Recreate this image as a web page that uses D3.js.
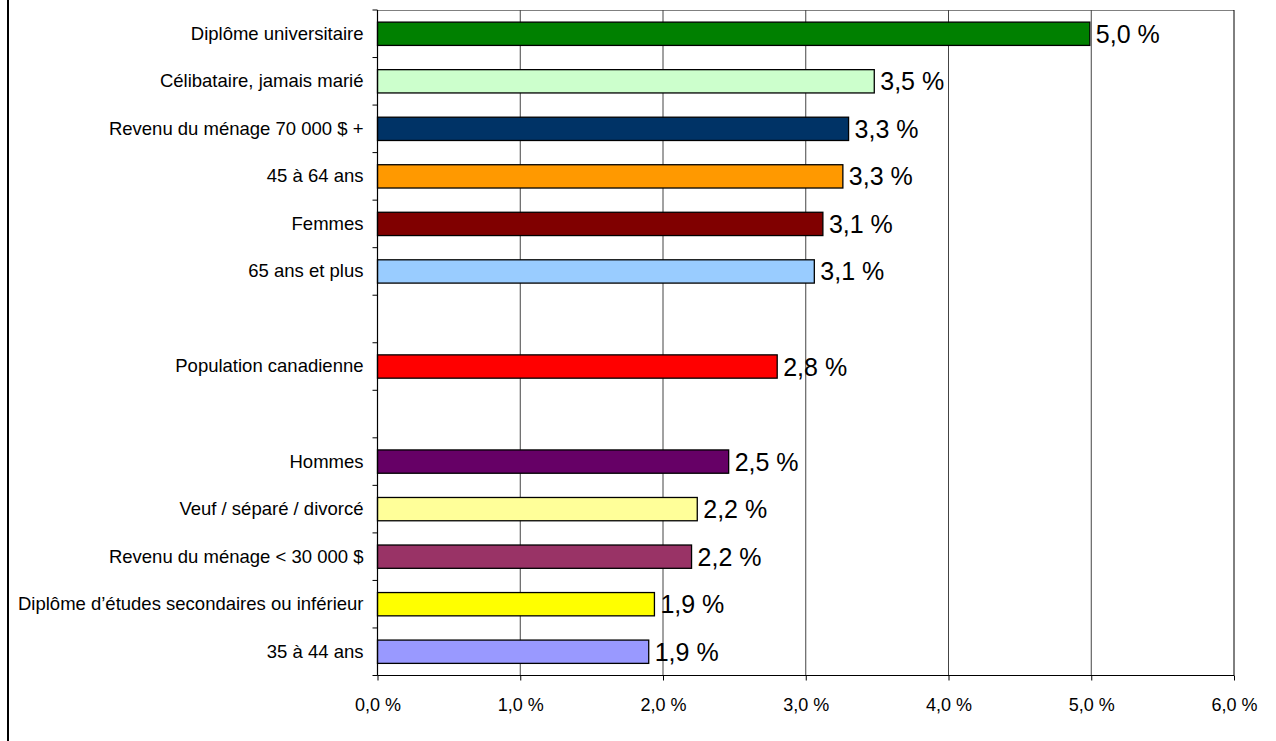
<!DOCTYPE html>
<html>
<head>
<meta charset="utf-8">
<script src="https://cdn.jsdelivr.net/npm/d3@7"></script>
<style>
  html, body { margin: 0; padding: 0; background: #fff; }
  svg { display: block; font-family: "Liberation Sans", Arial, sans-serif; }
</style>
</head>
<body>
<svg id="chart" width="1276" height="741"></svg>
<script>
// Slots from top to bottom; null = empty gap row
const categories = [
  "Diplôme universitaire",
  "Célibataire, jamais marié",
  "Revenu du ménage 70 000 $ +",
  "45 à 64 ans",
  "Femmes",
  "65 ans et plus",
  null,
  "Population canadienne",
  null,
  "Hommes",
  "Veuf / séparé / divorcé",
  "Revenu du ménage < 30 000 $",
  "Diplôme d’études secondaires ou inférieur",
  "35 à 44 ans"
];
const values = [4.99, 3.48, 3.30, 3.26, 3.12, 3.06, null, 2.80, null, 2.46, 2.24, 2.20, 1.94, 1.90];
const colors = ["#008000", "#CCFFCC", "#003366", "#FF9900", "#800000", "#99CCFF", null,
                "#FF0000", null, "#660066", "#FFFF99", "#993366", "#FFFF00", "#9999FF"];
const xTicks = [0, 1, 2, 3, 4, 5, 6];

const fmt = v => v.toFixed(1).replace(".", ",") + " %";

const svg = d3.select("#chart");
const mLeft = 377.5, mRight = 1234, mTop = 10, mBottom = 675.5;

const keys = categories.map((c, i) => "k" + i);
const x = d3.scaleLinear().domain([0, 6]).range([mLeft, mRight]);
const y = d3.scaleBand().domain(keys).range([mTop, mBottom]).paddingInner(0).paddingOuter(0);

// outer frame left edge
svg.append("line").attr("x1", 8).attr("x2", 8).attr("y1", 0).attr("y2", 741)
  .attr("stroke", "#000").attr("stroke-width", 2);

// top border of plot area
svg.append("line").attr("x1", mLeft).attr("x2", mRight).attr("y1", mTop + 0.5).attr("y2", mTop + 0.5)
  .attr("stroke", "#808080").attr("stroke-width", 1);

// vertical gridlines
svg.append("g").selectAll("line").data(xTicks.filter(d => d > 0)).join("line")
  .attr("x1", d => x(d)).attr("x2", d => x(d))
  .attr("y1", mTop).attr("y2", mBottom)
  .attr("stroke", d => d === 6 ? "#000" : "#444").attr("stroke-width", 1);

// bars
const rows = keys.map((k, i) => ({ k, label: categories[i], v: values[i], c: colors[i] }))
  .filter(d => d.v !== null);
const bh = y.bandwidth() * 0.49;
svg.append("g").selectAll("rect").data(rows).join("rect")
  .attr("x", x(0))
  .attr("y", d => y(d.k) + (y.bandwidth() - bh) / 2)
  .attr("width", d => x(d.v) - x(0))
  .attr("height", bh)
  .attr("fill", d => d.c)
  .attr("stroke", "#000").attr("stroke-width", 1.3);

// value labels
svg.append("g").selectAll("text").data(rows).join("text")
  .attr("x", d => x(d.v) + 6)
  .attr("y", d => y(d.k) + y.bandwidth() / 2)
  .attr("dy", "0.36em")
  .attr("font-size", 25)
  .attr("fill", "#000")
  .text(d => fmt(d.v));

// left axis: labels at band centres
const yAxis = d3.axisLeft(y).tickSize(0).tickPadding(14)
  .tickFormat(k => categories[keys.indexOf(k)] || "");
const gy = svg.append("g").attr("transform", `translate(${mLeft},0)`).call(yAxis);
gy.select(".domain").remove();
gy.selectAll("text").attr("font-size", 18.5).attr("fill", "#000").attr("font-family", "Liberation Sans, Arial, sans-serif");

// left axis line and boundary ticks
const bounds = keys.map(k => y(k)).concat([mBottom]);
svg.append("line").attr("x1", mLeft).attr("x2", mLeft).attr("y1", mTop).attr("y2", mBottom)
  .attr("stroke", "#000").attr("stroke-width", 1.2);
svg.append("g").selectAll("line").data(bounds).join("line")
  .attr("x1", mLeft - 5).attr("x2", mLeft).attr("y1", d => d).attr("y2", d => d)
  .attr("stroke", "#000").attr("stroke-width", 1);

// bottom axis
const xAxis = d3.axisBottom(x).tickValues(xTicks).tickSize(5).tickPadding(18).tickFormat(fmt);
const gx = svg.append("g").attr("transform", `translate(0,${mBottom})`).call(xAxis);
gx.select(".domain").attr("stroke", "#000").attr("stroke-width", 1.2).attr("d", `M${mLeft},0H${mRight}`);
gx.selectAll(".tick line").attr("stroke", "#000");
gx.selectAll("text").attr("font-size", 18).attr("fill", "#000").attr("font-family", "Liberation Sans, Arial, sans-serif");
</script>
</body>
</html>
